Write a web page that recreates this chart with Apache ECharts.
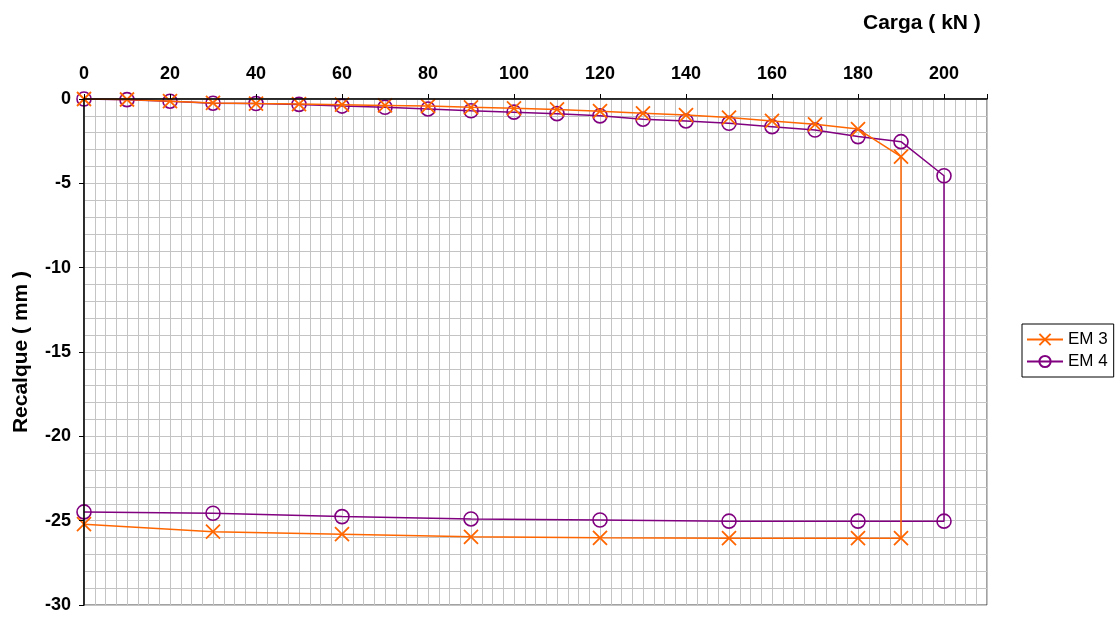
<!DOCTYPE html>
<html>
<head>
<meta charset="utf-8">
<script src="https://cdn.jsdelivr.net/npm/echarts@6/dist/echarts.min.js"></script>
<style>
html,body{margin:0;padding:0;background:#fff;}
#chart{width:1118px;height:617px;}
</style>
</head>
<body>
<div id="chart"></div>
<script>
// Data
const em3Load = [0,10,20,30,40,50,60,70,80,90,100,110,120,130,140,150,160,170,180,190,190,180,150,120,90,60,30,0];
const em3Settle = [0,-0.03,-0.13,-0.23,-0.27,-0.30,-0.34,-0.38,-0.42,-0.49,-0.55,-0.62,-0.72,-0.85,-0.95,-1.10,-1.30,-1.50,-1.78,-3.42,-26.04,-26.04,-26.04,-26.02,-25.96,-25.80,-25.65,-25.21];
const em4Load = [0,10,20,30,40,50,60,70,80,90,100,110,120,130,140,150,160,170,180,190,200,200,180,150,120,90,60,30,0];
const em4Settle = [0,-0.04,-0.13,-0.25,-0.27,-0.32,-0.42,-0.49,-0.59,-0.70,-0.78,-0.87,-1.00,-1.20,-1.30,-1.44,-1.64,-1.84,-2.23,-2.53,-4.55,-25.03,-25.03,-25.03,-24.96,-24.90,-24.76,-24.56,-24.48];
const seriesNames = ['EM 3','EM 4'];
const xTitle = 'Carga ( kN )';
const yTitle = 'Recalque ( mm )';

const pairs = (xs, ys) => xs.map((x, i) => [x, ys[i]]);
const FONT = '"Liberation Sans", Arial, sans-serif';
const ORANGE = '#FF6600';
const PURPLE = '#800080';

const chart = echarts.init(document.getElementById('chart'), null, {renderer: 'canvas'});
chart.setOption({
  animation: false,
  backgroundColor: '#ffffff',
  title: {
    text: xTitle, left: 858, top: 8,
    textStyle: {fontFamily: FONT, fontWeight: 'bold', fontSize: 21, color: '#000'}
  },
  legend: {
    orient: 'vertical', left: 1022, top: 324,
    borderColor: '#000', borderWidth: 1, borderRadius: 0,
    padding: [7, 6, 7, 4], itemGap: 5, itemWidth: 36, itemHeight: 14,
    textStyle: {fontFamily: FONT, fontSize: 17, color: '#000', padding: [0, 0, 0, 0]},
    data: seriesNames
  },
  grid: {left: 84, top: 99, width: 903, height: 506, show: true, borderColor: '#444', borderWidth: 1, backgroundColor: '#fff'},
  xAxis: [
    {
      type: 'value', position: 'top', min: 0, max: 210, interval: 20,
      axisLine: {show: true, lineStyle: {color: '#000', width: 1.5}},
      axisTick: {show: true, inside: false, length: 5, lineStyle: {color: '#000'}},
      axisLabel: {fontFamily: FONT, fontWeight: 'bold', fontSize: 18, color: '#000', margin: 16,
        formatter: v => (v % 20 === 0 ? String(v) : '')},
      splitLine: {show: false}, z: 5
    },
    {
      type: 'value', position: 'bottom', min: 0, max: 210, interval: 2.5,
      axisLine: {show: false}, axisTick: {show: false}, axisLabel: {show: false},
      splitLine: {show: true, lineStyle: {color: '#c4c4c4', width: 1}}
    }
  ],
  yAxis: [
    {
      type: 'value', min: -30, max: 0, interval: 5,
      name: yTitle, nameLocation: 'middle', nameRotate: 90, nameGap: 52,
      nameTextStyle: {fontFamily: FONT, fontWeight: 'bold', fontSize: 21, color: '#000'},
      axisLine: {show: true, onZero: false, lineStyle: {color: '#000', width: 1.5}},
      axisTick: {show: true, inside: false, length: 5, lineStyle: {color: '#000'}},
      axisLabel: {fontFamily: FONT, fontWeight: 'bold', fontSize: 18, color: '#000', margin: 13},
      splitLine: {show: false}, z: 5
    },
    {
      type: 'value', min: -30, max: 0, interval: 1, position: 'right',
      axisLine: {show: false}, axisTick: {show: false}, axisLabel: {show: false},
      splitLine: {show: true, lineStyle: {color: '#c4c4c4', width: 1}}
    }
  ],
  series: [
    {
      name: seriesNames[1], type: 'line', xAxisIndex: 0, yAxisIndex: 0,
      data: pairs(em4Load, em4Settle),
      symbol: 'circle', symbolSize: 14,
      itemStyle: {color: 'rgba(0,0,0,0)', borderColor: PURPLE, borderWidth: 1.6},
      lineStyle: {color: PURPLE, width: 1.5},
      z: 3
    },
    {
      name: seriesNames[0], type: 'line', xAxisIndex: 0, yAxisIndex: 0,
      data: pairs(em3Load, em3Settle),
      symbol: 'path://M0,0L10,10M10,0L0,10', symbolSize: 14, symbolKeepAspect: true,
      itemStyle: {color: ORANGE, borderColor: ORANGE, borderWidth: 1.8},
      lineStyle: {color: ORANGE, width: 1.5},
      z: 4
    }
  ]
});
</script>
</body>
</html>
